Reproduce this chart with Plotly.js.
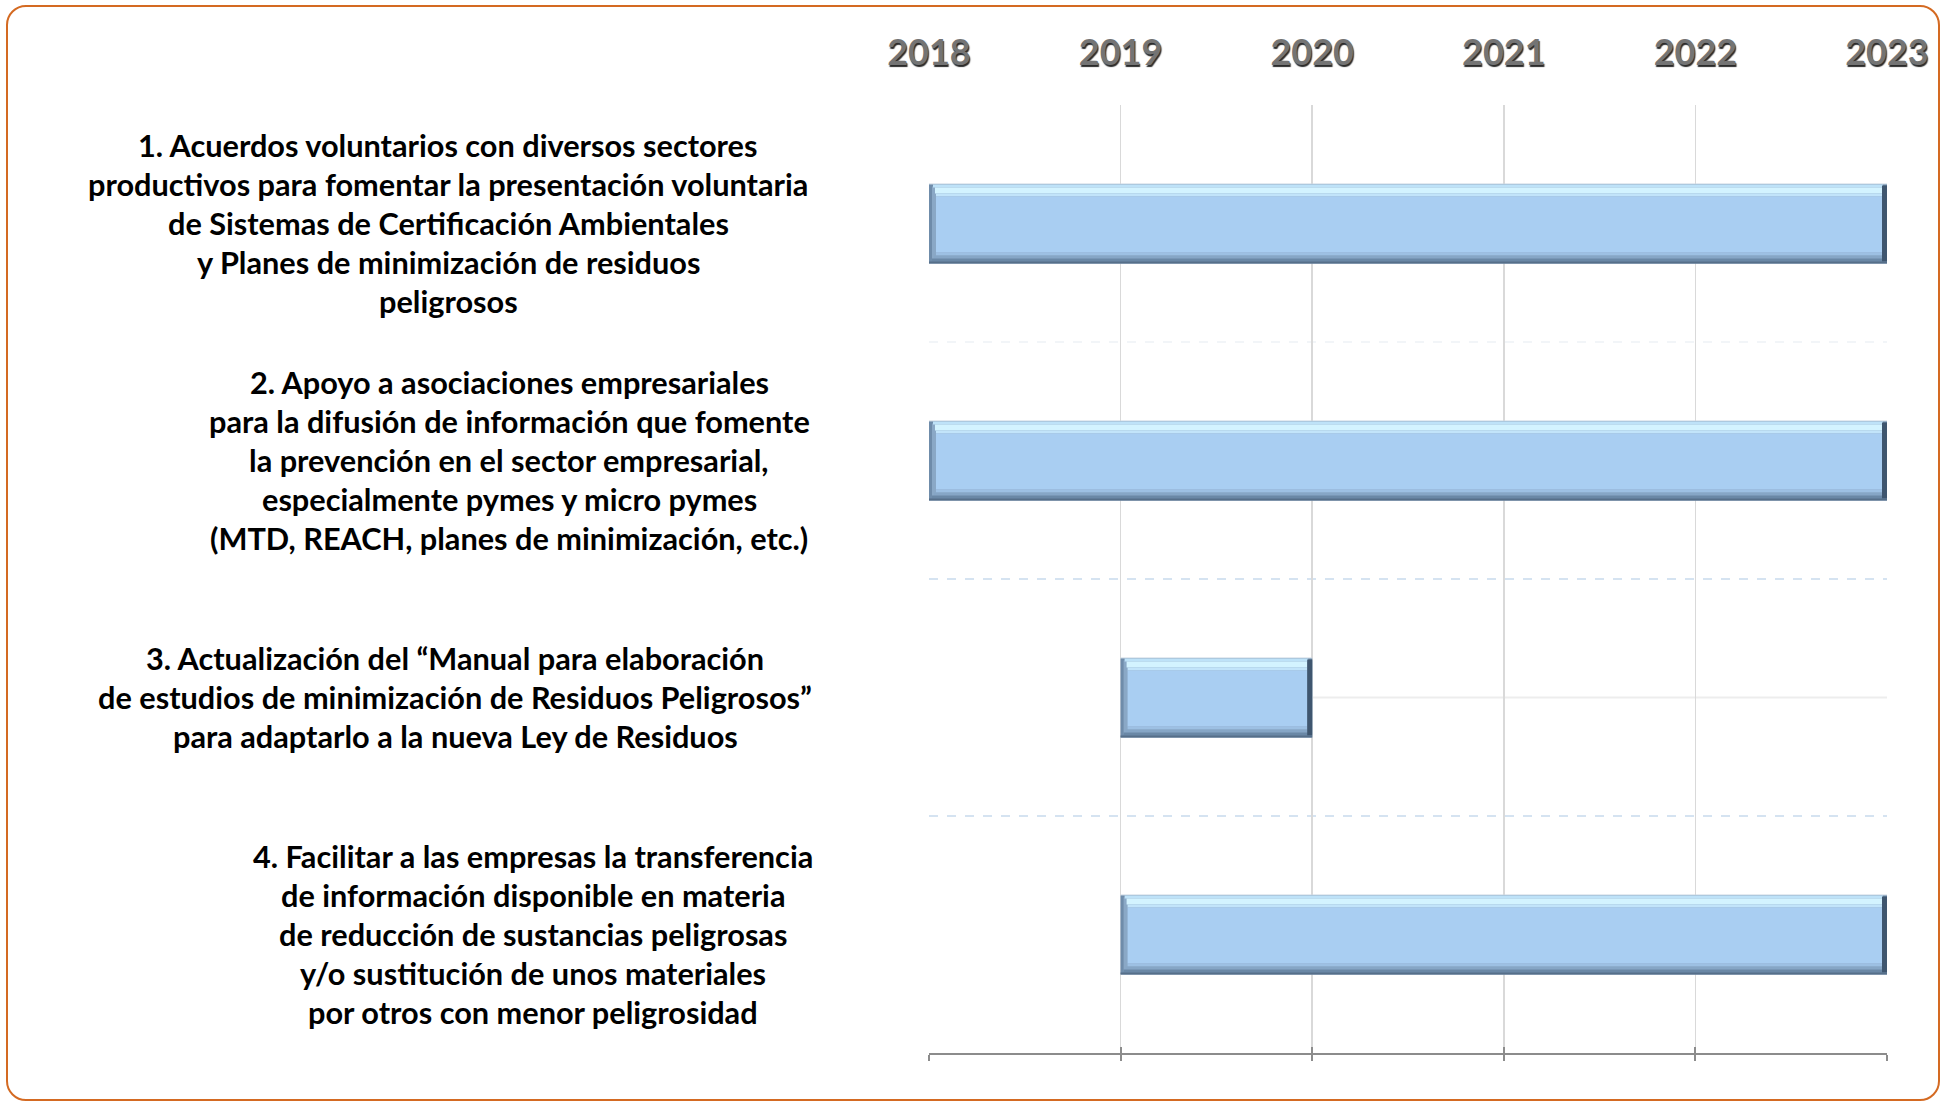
<!DOCTYPE html>
<html>
<head>
<meta charset="utf-8">
<script src="https://cdn.plot.ly/plotly-3.0.1.min.js"></script>
<style>
  html, body { margin: 0; padding: 0; background: #ffffff; }
  #chart { position: absolute; left: 0; top: 0; width: 1945px; height: 1105px; }
  #frame { position: absolute; left: 6px; top: 5px; width: 1934px; height: 1096px;
           border: 2px solid #D46A22; border-radius: 20px; box-sizing: border-box; pointer-events: none; }
</style>
</head>
<body>
<div id="chart"></div>
<div id="frame"></div>
<script>
// ---- data ----
const categories = [
  "1. Acuerdos voluntarios con diversos sectores<br>productivos para fomentar la presentación voluntaria<br>de Sistemas de Certificación Ambientales<br>y Planes de minimización de residuos<br>peligrosos",
  "2. Apoyo a asociaciones empresariales<br>para la difusión de información que fomente<br>la prevención en el sector empresarial,<br>especialmente pymes y micro pymes<br>(MTD, REACH, planes de minimización, etc.)",
  "3. Actualización del “Manual para elaboración<br>de estudios de minimización de Residuos Peligrosos”<br>para adaptarlo a la nueva Ley de Residuos",
  "4. Facilitar a las empresas la transferencia<br>de información disponible en materia<br>de reducción de sustancias peligrosas<br>y/o sustitución de unos materiales<br>por otros con menor peligrosidad"
];
const startYear = [2018, 2018, 2019, 2019];
const endYear   = [2023, 2023, 2020, 2023];
const years     = [2018, 2019, 2020, 2021, 2022, 2023];
const yearLabels = ["2018", "2019", "2020", "2021", "2022", "2023"];

// ---- layout constants ----
const W = 1945, H = 1105;
const M = { l: 929, r: 58, t: 105, b: 52 };
const plotW = W - M.l - M.r;
const plotH = H - M.t - M.b;
const labelCenterPx = [448, 509, 455, 533];
const lineStep = 39;
const labelFontSize = 30.7;

const xr = [years[0], years[years.length - 1]];
const pxPerYear = plotW / (xr[1] - xr[0]);
const pxPerCat = plotH / categories.length;
const barPx = 80;

const durations = startYear.map((s, i) => endYear[i] - s);

// one bevel layer of every bar: vertical band [topPx, topPx+hPx] inside the bar,
// horizontally inset by leftPx / rightPx from the bar's start / end
function barLayer(color, topPx, hPx, leftPx, rightPx) {
  return {
    type: 'bar', orientation: 'h',
    y: categories,
    base: startYear.map(s => s + leftPx / pxPerYear),
    x: durations.map(d => d - (leftPx + rightPx) / pxPerYear),
    offset: (-barPx / 2 + topPx) / pxPerCat,
    width: hPx / pxPerCat,
    marker: { color: color, line: { width: 0 } },
    hoverinfo: 'skip', showlegend: false
  };
}
// dark strip at the right end of every bar
function rightEdge(color, topPx, hPx, wPx) {
  return {
    type: 'bar', orientation: 'h', y: categories,
    base: endYear.map(e => e - wPx / pxPerYear),
    x: endYear.map(() => wPx / pxPerYear),
    offset: (-barPx / 2 + topPx) / pxPerCat, width: hPx / pxPerCat,
    marker: { color: color, line: { width: 0 } },
    hoverinfo: 'skip', showlegend: false
  };
}

const traces = [
  barLayer('#C9D6E2', 0, 80, 0, 0),
  barLayer('#6F8CAA', 1, 79, 0, 0),
  barLayer('#8AA8C6', 3, 74, 3, 0),
  barLayer('#BEE2F8', 1, 3, 4, 4),
  barLayer('#D3F3FF', 4, 6, 6, 5),
  barLayer('#C2E4FA', 10, 3, 7, 5),
  barLayer('#A9CEF2', 13, 56, 7, 5),
  barLayer('#9DC0E3', 69, 3, 7, 5),
  barLayer('#86A6C6', 72, 3, 5, 4),
  barLayer('#6A88A6', 75, 3, 3, 3),
  rightEdge('#3F566F', 2, 76, 5),
  barLayer('#566F89', 78, 2, 0, 0),
  {
    type: 'scatter', mode: 'markers', xaxis: 'x2', yaxis: 'y',
    x: xr, y: [categories[0], categories[0]],
    marker: { opacity: 0 }, hoverinfo: 'skip', showlegend: false
  },
  {
    type: 'scatter', mode: 'markers', xaxis: 'x3', yaxis: 'y',
    x: xr, y: [categories[0], categories[0]],
    marker: { opacity: 0 }, hoverinfo: 'skip', showlegend: false
  }
];

const annotations = [];
categories.forEach((cat, i) => {
  const lines = cat.split('<br>');
  const n = lines.length;
  lines.forEach((ln, j) => {
    annotations.push({
      xref: 'paper', yref: 'y',
      x: (labelCenterPx[i] - M.l) / plotW, y: cat,
      yshift: ((n - 1) / 2 - j) * lineStep,
      text: ln, showarrow: false, xanchor: 'center', yanchor: 'middle',
      font: { family: 'Lato, "Open Sans", sans-serif', size: labelFontSize, weight: 700, color: '#000000' }
    });
  });
});

const shapes = [
  { type: 'line', xref: 'x', yref: 'y', x0: xr[0], x1: xr[1], y0: 0.5, y1: 0.5,
    line: { color: '#F2F5F8', width: 2, dash: 'dash' }, layer: 'below' },
  { type: 'line', xref: 'x', yref: 'y', x0: xr[0], x1: xr[1], y0: 1.5, y1: 1.5,
    line: { color: '#D5E3F1', width: 2, dash: 'dash' }, layer: 'below' },
  { type: 'line', xref: 'x', yref: 'y', x0: xr[0], x1: xr[1], y0: 2.5, y1: 2.5,
    line: { color: '#D5E3F1', width: 2, dash: 'dash' }, layer: 'below' },
  { type: 'line', xref: 'x', yref: 'y', x0: endYear[2], x1: xr[1], y0: 2, y1: 2,
    line: { color: '#EDEDED', width: 2 }, layer: 'below' }
];

const layout = {
  width: W, height: H,
  margin: M,
  paper_bgcolor: '#ffffff', plot_bgcolor: '#ffffff',
  barmode: 'overlay',
  showlegend: false,
  xaxis: {
    range: xr, tickvals: years, showticklabels: false,
    showgrid: true, gridcolor: '#D9D9D9', gridwidth: 1.5,
    zeroline: false,
    showline: true, linecolor: '#8C8C8C', linewidth: 2,
    ticks: 'outside', ticklen: 6, tickwidth: 2, tickcolor: '#8C8C8C'
  },
  xaxis2: {
    overlaying: 'x', side: 'top', anchor: 'y', range: xr,
    tickvals: years, ticktext: yearLabels,
    showgrid: false, zeroline: false, showline: false,
    ticks: 'outside', ticklen: 25, tickcolor: 'rgba(0,0,0,0)',
    tickfont: { family: 'Lato, "Open Sans", sans-serif', size: 36, weight: 700, color: '#747474',
                shadow: '1px 2px 1px #2b2b2b' }
  },
  xaxis3: {
    overlaying: 'x', side: 'bottom', anchor: 'y', range: xr,
    tickvals: years, showticklabels: false,
    showgrid: false, zeroline: false, showline: false,
    ticks: 'inside', ticklen: 6, tickwidth: 2, tickcolor: '#8C8C8C'
  },
  yaxis: {
    type: 'category', categoryorder: 'array', categoryarray: categories,
    range: [3.5, -0.5], showticklabels: false, showgrid: false, zeroline: false,
    showline: false, ticks: ''
  },
  annotations: annotations,
  shapes: shapes
};

Plotly.newPlot('chart', traces, layout, { displayModeBar: false, staticPlot: true });
</script>
</body>
</html>
